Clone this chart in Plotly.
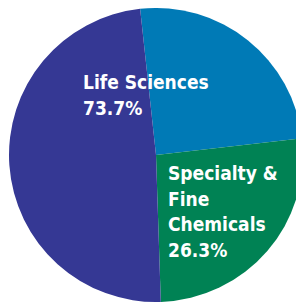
import plotly.graph_objects as go

segments = ["Life Sciences (part)", "Specialty & Fine Chemicals", "Life Sciences"]
values = [24.9, 26.3, 48.8]
colors = ["#007AB6", "#008254", "#353894"]

life_lines = ["Life Sciences", "73.7%"]
spec_lines = ["Specialty &", "Fine", "Chemicals", "26.3%"]

W, H = 296, 295
cx, cy, r = 148, 147, 147

fig = go.Figure(go.Pie(
    labels=segments,
    values=values,
    marker=dict(colors=colors, line=dict(width=0)),
    sort=False,
    direction="clockwise",
    rotation=-6.2,
    textinfo="none",
    hoverinfo="skip",
    showlegend=False,
    domain=dict(x=[(cx - r) / W, (cx + r) / W],
                y=[(H - cy - r) / H, (H - cy + r) / H]),
))

font = dict(family="Liberation Sans Narrow, DejaVu Sans Condensed, Arial Narrow, sans-serif",
            size=19, color="white", weight="bold")

def add_lines(lines, x, y0, step):
    for i, t in enumerate(lines):
        fig.add_annotation(text="<b>" + t + "</b>", x=x / W, y=(H - (y0 + i * step)) / H,
                           xref="paper", yref="paper", xanchor="left", yanchor="top",
                           align="left", showarrow=False, font=font)

add_lines(life_lines, 73, 61, 25.5)
add_lines(spec_lines, 158, 152, 25.7)

fig.update_layout(width=W, height=H, margin=dict(l=0, r=0, t=0, b=0),
                  paper_bgcolor="white", plot_bgcolor="white")

fig.write_html("out.html")
